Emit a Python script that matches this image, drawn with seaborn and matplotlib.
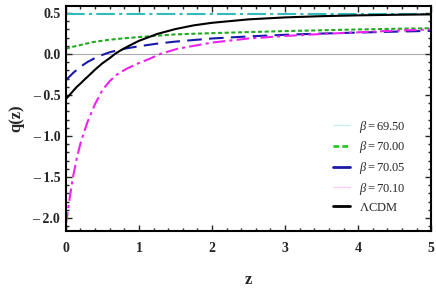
import numpy as np
import pandas as pd
import seaborn as sns
import matplotlib.pyplot as plt
from matplotlib.lines import Line2D
from matplotlib.ticker import MultipleLocator, FuncFormatter

# Data
z_lcdm = [0, 0.05, 0.1, 0.15, 0.2, 0.25, 0.3, 0.4, 0.5, 0.6, 0.67, 0.75, 0.875, 1.0, 1.25, 1.5, 1.75, 2.0, 2.5, 3.0, 3.5, 4.0, 4.5, 5.0]
q_lcdm = [-0.55, -0.50, -0.45, -0.40, -0.36, -0.316, -0.275, -0.19, -0.113, -0.05, 0.0, 0.045, 0.105, 0.161, 0.245, 0.305, 0.35, 0.381, 0.423, 0.447, 0.462, 0.472, 0.479, 0.484]

z_b6950 = [0, 1, 2, 3, 4, 5]
q_b6950 = [0.49, 0.49, 0.49, 0.49, 0.49, 0.49]

z_b7000 = [0, 0.1, 0.2, 0.37, 0.6, 0.83, 1.0, 1.5, 2.0, 2.5, 3.0, 3.5, 4.0, 4.5, 5.0]
q_b7000 = [0.065, 0.09, 0.11, 0.146, 0.175, 0.195, 0.207, 0.24, 0.255, 0.268, 0.28, 0.29, 0.30, 0.308, 0.315]

z_b7005 = [0, 0.1, 0.2, 0.3, 0.4, 0.5, 0.6, 0.8, 1.0, 1.25, 1.5, 2.0, 2.5, 3.0, 3.5, 4.0, 4.5, 5.0]
q_b7005 = [-0.32, -0.23, -0.155, -0.095, -0.048, -0.01, 0.022, 0.065, 0.095, 0.127, 0.152, 0.19, 0.215, 0.235, 0.25, 0.262, 0.273, 0.283]

z_b7010 = [0, 0.02, 0.05, 0.1, 0.15, 0.2, 0.25, 0.3, 0.4, 0.5, 0.6, 0.7, 0.83, 1.0, 1.15, 1.29, 1.53, 2.0, 2.5, 3.0, 3.5, 4.0, 4.5, 5.0]
q_b7010 = [-2.08, -1.96, -1.77, -1.49, -1.27, -1.09, -0.95, -0.82, -0.61, -0.44, -0.33, -0.25, -0.18, -0.11, -0.057, 0.0, 0.065, 0.14, 0.19, 0.22, 0.245, 0.265, 0.285, 0.30]

labels = [r"$\beta = 69.50$", r"$\beta = 70.00$", r"$\beta = 70.05$", r"$\beta = 70.10$", r"$\Lambda$CDM"]

sns.set_theme(style="white")
plt.rcParams['font.family'] = ['Liberation Serif', 'DejaVu Serif']
plt.rcParams['mathtext.fontset'] = 'custom'
plt.rcParams['mathtext.rm'] = 'Liberation Serif'
plt.rcParams['mathtext.it'] = 'Liberation Serif:italic'

fig = plt.figure(figsize=(4.36, 2.90), dpi=100)
ax = fig.add_axes([0.151, 0.203, 0.838, 0.776])

ax.axhline(0, color='#aaaaaa', lw=0.8, zorder=0)

series = [
    (z_b6950, q_b6950, '#33bbbb', (0, (9, 2, 1.5, 2)), 1.5),
    (z_b7000, q_b7000, '#22aa22', (0, (2, 1.2)), 1.5),
    (z_b7005, q_b7005, '#1a1aaa', (0, (7, 3.5)), 1.5),
    (z_b7010, q_b7010, '#ee22ee', (0, (6, 2, 1.5, 2)), 1.5),
    (z_lcdm, q_lcdm, 'black', '-', 1.5),
]
for (zz, qq, col, ls, lw), lab in zip(series, labels):
    df = pd.DataFrame({'z': zz, 'q': qq})
    sns.lineplot(data=df, x='z', y='q', ax=ax, color=col, linestyle=ls, lw=lw, legend=False)

ax.set_xlim(0, 5)
ax.set_ylim(-2.16, 0.585)
ax.xaxis.set_major_locator(MultipleLocator(1))
ax.xaxis.set_minor_locator(MultipleLocator(0.2))
ax.yaxis.set_major_locator(MultipleLocator(0.5))
ax.yaxis.set_minor_locator(MultipleLocator(0.1))

def yfmt(v, pos):
    if v < -1e-9:
        return "\u2013 %.1f" % abs(v)
    return "%.1f" % abs(v)

ax.yaxis.set_major_formatter(FuncFormatter(yfmt))
ax.tick_params(which='both', direction='in', top=True, right=True, bottom=True, left=True, width=1.0)
ax.tick_params(which='major', length=4, labelsize=10)
ax.tick_params(axis='x', which='major', pad=8)
ax.tick_params(axis='y', which='major', pad=4)
ax.tick_params(which='minor', length=2)
for lab in ax.get_xticklabels() + ax.get_yticklabels():
    lab.set_fontweight('bold')
for s in ax.spines.values():
    s.set_linewidth(1.5)
    s.set_color('black')

ax.set_xlabel('z', fontsize=12, fontweight='bold', labelpad=12)
ax.set_ylabel('q(z)', fontsize=12, fontweight='bold', labelpad=6)

handles = [
    Line2D([], [], color='#c8f0f0', lw=1.0),
    Line2D([], [], color='#22cc22', lw=2.0, linestyle=(0, (2, 1.2))),
    Line2D([], [], color='#1a1aaa', lw=2.0),
    Line2D([], [], color='#ffccff', lw=1.0),
    Line2D([], [], color='black', lw=2.0),
]
leg = ax.legend(handles, labels, loc='upper left', frameon=False, fontsize=9,
                handlelength=1.4, labelspacing=0.38, handletextpad=0.7,
                borderpad=0, borderaxespad=0, bbox_to_anchor=(0.73, 0.50))

fig.savefig('out.png', dpi=100)
